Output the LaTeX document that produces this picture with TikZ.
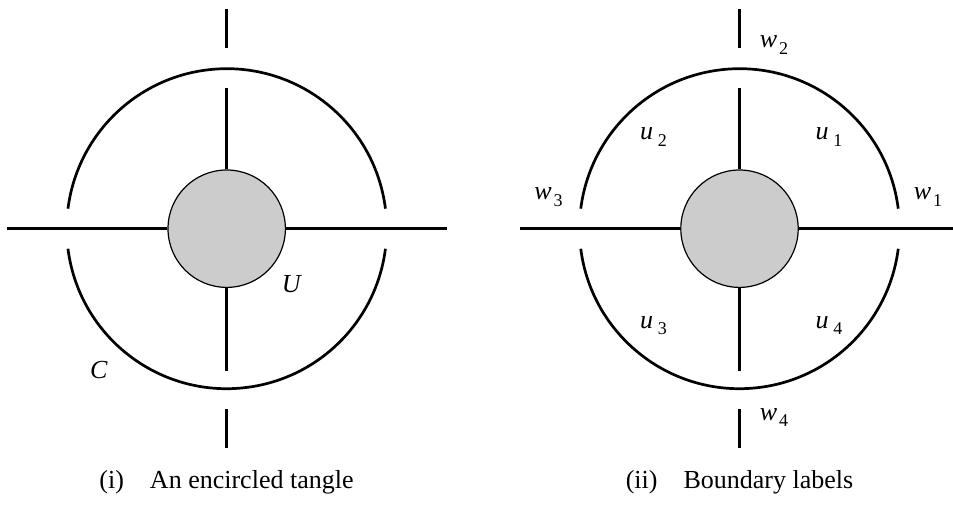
\documentclass[tikz,border=0pt]{standalone}
\usepackage{fontspec}
\setmainfont{Liberation Serif}
\newcommand{\sbs}[1]{\kern0.08em\raisebox{-0.25em}{\fontsize{18}{20}\selectfont #1}}
\begin{document}
\begin{tikzpicture}[x=1pt,y=-1pt,
  strand/.style={line width=2.7pt},
  tangle/.style={circle,draw,line width=1.2pt,fill=black!20,minimum size=117.4pt,inner sep=0pt},
  lab/.style={anchor=base,inner sep=0pt,font=\fontsize{26}{30}\selectfont},
  capt/.style={anchor=base,inner sep=0pt,font=\fontsize{26}{30}\selectfont}]
\useasboundingbox (0,0) rectangle (953,505);

% ---------- left diagram ----------
\node[tangle] (UL) at (226.7,228.7) {};
\coordinate (Lw) at (6.7,228.7);
\coordinate (Le) at (446.7,228.7);
\coordinate (Lt1) at (226.7,9);
\coordinate (Lt2) at (226.7,48.5);
\coordinate (Lt3) at (226.7,88);
\coordinate (Lb3) at (226.7,370.5);
\coordinate (Lb2) at (226.7,409);
\coordinate (Lb1) at (226.7,448);
\draw[strand] (Lw) -- (UL.west);
\draw[strand] (UL.east) -- (Le);
\draw[strand] (Lt1) -- (Lt2);
\draw[strand] (Lt3) -- (UL.north);
\draw[strand] (UL.south) -- (Lb3);
\draw[strand] (Lb2) -- (Lb1);
\draw[strand] (UL.center) ++(7.2:160pt) arc[start angle=7.2,end angle=172.8,radius=160pt];
\draw[strand] (UL.center) ++(187.2:160pt) arc[start angle=187.2,end angle=352.8,radius=160pt];
\node[lab] (labU) at (292,292) {\textit{U}};
\node[lab] (labC) at (99,378) {\textit{C}};
\node[capt] (capL) at (226.5,488) {(i)\quad An encircled tangle};

% ---------- right diagram ----------
\node[tangle] (UR) at (739.5,228.7) {};
\coordinate (Rw) at (519.5,228.7);
\coordinate (Re) at (953,228.7);
\coordinate (Rt1) at (739.5,9);
\coordinate (Rt2) at (739.5,48.5);
\coordinate (Rt3) at (739.5,88);
\coordinate (Rb3) at (739.5,370.5);
\coordinate (Rb2) at (739.5,409);
\coordinate (Rb1) at (739.5,448);
\draw[strand] (Rw) -- (UR.west);
\draw[strand] (UR.east) -- (Re);
\draw[strand] (Rt1) -- (Rt2);
\draw[strand] (Rt3) -- (UR.north);
\draw[strand] (UR.south) -- (Rb3);
\draw[strand] (Rb2) -- (Rb1);
\draw[strand] (UR.center) ++(7.2:160pt) arc[start angle=7.2,end angle=172.8,radius=160pt];
\draw[strand] (UR.center) ++(187.2:160pt) arc[start angle=187.2,end angle=352.8,radius=160pt];
\node[lab] (w2) at (774,48) {\textit{w}\sbs{2}};
\node[lab] (w4) at (774,420) {\textit{w}\sbs{4}};
\node[lab] (w3) at (548.5,200) {\textit{w}\sbs{3}};
\node[lab] (w1) at (928,200) {\textit{w}\sbs{1}};
\node[lab] (u2) at (653.5,140) {\textit{u}\kern0.1em\sbs{2}};
\node[lab] (u1) at (829,140) {\textit{u}\kern0.1em\sbs{1}};
\node[lab] (u3) at (653.5,328) {\textit{u}\kern0.1em\sbs{3}};
\node[lab] (u4) at (829,328) {\textit{u}\kern0.1em\sbs{4}};
\node[capt] (capR) at (739.5,488) {(ii)\quad Boundary labels};
\end{tikzpicture}
\end{document}
